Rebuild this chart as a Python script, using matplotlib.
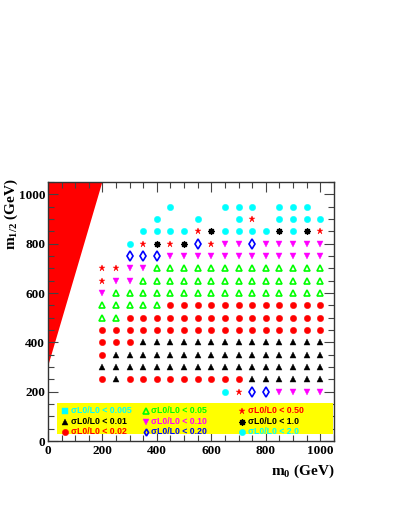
import numpy as np
import matplotlib.pyplot as plt
from matplotlib.patches import Rectangle
from matplotlib.ticker import MultipleLocator

plt.rcParams["mathtext.fontset"] = "custom"
plt.rcParams["mathtext.rm"] = "Liberation Serif:bold"
plt.rcParams["mathtext.bf"] = "Liberation Serif:bold"
plt.rcParams["mathtext.it"] = "Liberation Serif:bold"

# grid of scan points
m0_values = [200, 250, 300, 350, 400, 450, 500, 550, 600, 650, 700, 750, 800, 850, 900, 950, 1000]
m12_values = [200, 250, 300, 350, 400, 450, 500, 550, 600, 650, 700, 750, 800, 850, 900, 950]

# one code per m0 column, per m12 row
grid_rows = [
    ".........CSDDMMMM",
    "RARRRRRRRRRAAAAAA",
    "AAAAAAAAAAAAAAAAA",
    "RAAAAAAAAAAAAAAAA",
    "RRRAAAAAAAAAAAAAA",
    "RRRRRRRRRRRRRRRRR",
    "GGRRRRRRRRRRRRRRR",
    "GGGGGRRRRRRRRRRRR",
    "MGGGGGGGGGGGGGGGG",
    "SMMGGGGGGGGGGGGGG",
    "SSMMGGGGGGGGGGGGG",
    "..DDDMMMMMMMMMMMM",
    "..CSXSXDSMMDMMMMM",
    "...CCCCSXCCCCXCXS",
    "....C..C..CS.CCCC",
    ".....C...CCC.CCC.",
]

# excluded region boundary
excl_m0 = [0, 200]
excl_m12 = [300, 1050]

# legend categories
cat_codes = ["Q", "A", "R", "G", "M", "D", "S", "X", "C"]
cat_labels = ["\u03c3L0/L0 < 0.005", "\u03c3L0/L0 < 0.01", "\u03c3L0/L0 < 0.02",
              "\u03c3L0/L0 < 0.05", "\u03c3L0/L0 < 0.10", "\u03c3L0/L0 < 0.20",
              "\u03c3L0/L0 < 0.50", "\u03c3L0/L0 < 1.0", "\u03c3L0/L0 < 2.0"]

# marker styles: marker, size, facecolor, edgecolor, edge width, text colour
styles = {
    "Q": ("s", 4.0, "#00ffff", "#00ffff", 0.3, "#00ffff"),
    "A": ("^", 4.3, "black", "black", 0.3, "black"),
    "R": ("o", 4.6, "#ff0000", "#ff0000", 0.3, "#ff0000"),
    "G": ("^", 4.0, "none", "#00ff00", 1.2, "#00ff00"),
    "M": ("v", 4.8, "#ff00ff", "#ff00ff", 0.3, "#ff00ff"),
    "D": ("d", 4.6, "none", "#0000ff", 1.2, "#0000ff"),
    "S": ("*", 4.8, "#ff0000", "#ff0000", 0.3, "#ff0000"),
    "X": ((8, 2, 0), 4.6, "black", "black", 1.0, "black"),
    "C": ("o", 4.6, "#00ffff", "#00ffff", 0.3, "#00ffff"),
}

fig = plt.figure(figsize=(3.99, 5.16), dpi=100)
ax = fig.add_axes([0.120, 0.1453, 0.717, 0.502])
ax.set_xlim(0, 1050)
ax.set_ylim(0, 1050)

# red excluded region
ax.fill([0, excl_m0[0], excl_m0[1], 0], [excl_m12[0], excl_m12[0], excl_m12[1], excl_m12[1]],
        color="#ff0000", lw=0)

# scan points
for code in styles:
    xs, ys = [], []
    for j, row in enumerate(grid_rows):
        for i, c in enumerate(row):
            if c == code:
                xs.append(m0_values[i])
                ys.append(m12_values[j])
    if xs:
        mk, ms, fc, ec, lw, _ = styles[code]
        ax.plot(xs, ys, ls="none", marker=mk, ms=ms, mfc=fc, mec=ec, mew=lw, zorder=3)

# yellow legend box
ax.add_patch(Rectangle((33, 28), 1012, 127, facecolor="#ffff00", edgecolor="none", zorder=2))
leg_x = [(62, 86), (361, 378), (711, 734)]
leg_y = [122, 78, 38]
for k, code in enumerate(cat_codes):
    col, row = divmod(k, 3)
    mk, ms, fc, ec, lw, tc = styles[code]
    if code == "D":
        ms = 3.5  # thin diamond is smaller in the key
    ax.plot([leg_x[col][0]], [leg_y[row]], ls="none", marker=mk, ms=ms, mfc=fc, mec=ec, mew=lw, zorder=4)
    ax.text(leg_x[col][1], leg_y[row], cat_labels[k], color=tc, fontsize=6.3, fontweight="bold",
            family="Liberation Sans", va="center", ha="left", zorder=4)

# axes styling
ax.xaxis.set_major_locator(MultipleLocator(200))
ax.xaxis.set_minor_locator(MultipleLocator(50))
ax.yaxis.set_major_locator(MultipleLocator(200))
ax.yaxis.set_minor_locator(MultipleLocator(50))
ax.tick_params(which="both", direction="in", top=True, right=True, width=0.8, color="#444444")
ax.tick_params(which="major", length=7)
ax.tick_params(which="minor", length=4)
ax.tick_params(axis="x", pad=3)
ax.tick_params(axis="y", pad=2)
for lab in ax.get_xticklabels() + ax.get_yticklabels():
    lab.set_family("Liberation Serif")
    lab.set_fontweight("bold")
    lab.set_fontsize(9.5)
for s in ax.spines.values():
    s.set_linewidth(1.0)
    s.set_color("#333333")

ax.set_xlabel(r"m$_{0}$ (GeV)", family="Liberation Serif", fontweight="bold",
              fontsize=11, loc="right", labelpad=4)
ax.set_ylabel(r"m$_{1/2}$ (GeV)", family="Liberation Serif", fontweight="bold",
              fontsize=11, loc="top")
ax.yaxis.set_label_coords(-0.098, 1.015)

fig.savefig("out.png", dpi=100)
